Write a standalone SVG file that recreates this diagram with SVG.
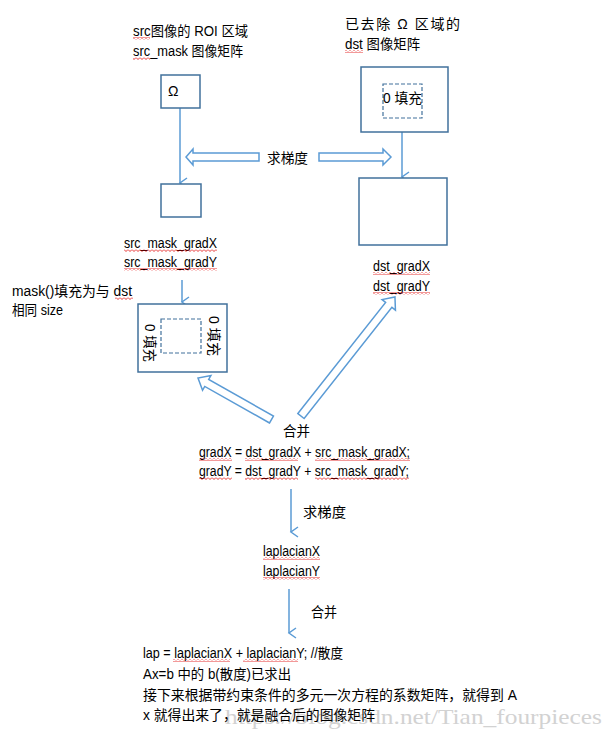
<svg xmlns="http://www.w3.org/2000/svg" width="608" height="743" viewBox="0 0 608 743">
<defs>
<pattern id="wavy" x="0" y="0" width="4" height="3" patternUnits="userSpaceOnUse">
<path d="M0,0.5 L2,2.5 L4,0.5" fill="none" stroke="#e00000" stroke-width="0.8"/>
</pattern>
<marker id="vhead" markerWidth="12" markerHeight="12" refX="6" refY="10" orient="auto" markerUnits="userSpaceOnUse" viewBox="0 0 12 12">
<path d="M1,3 L6,10 L11,3" fill="none" stroke="#5b9bd5" stroke-width="1.5"/>
</marker>
</defs>
<style>
.t{font-family:"Liberation Sans","Noto Sans CJK SC",sans-serif;font-size:14px;fill:#000}
.box{fill:#fff;stroke:#41719c;stroke-width:1.5}
.dash{fill:none;stroke:#41719c;stroke-width:1.2;stroke-dasharray:4,2}
.ln{fill:none;stroke:#5b9bd5;stroke-width:1.5}
.blk{fill:#fff;stroke:#5b9bd5;stroke-width:1.5;stroke-linejoin:miter}
.wv{fill:url(#wavy)}
.wm{font-family:"Liberation Serif",serif;font-size:21px;fill:#d2d2d2}
</style>
<rect width="608" height="743" fill="#fff"/>

<g id="watermark">
<text class="wm" x="225" y="724" textLength="377" lengthAdjust="spacingAndGlyphs">https://blog.csdn.net/Tian_fourpieces</text>
</g>

<g id="connectors">
<line class="ln" x1="180" y1="108" x2="180" y2="183" marker-end="url(#vhead)"/>
<line class="ln" x1="402" y1="132" x2="402" y2="177" marker-end="url(#vhead)"/>
<line class="ln" x1="182" y1="280" x2="182" y2="302" marker-end="url(#vhead)"/>
<line class="ln" x1="291" y1="489" x2="291" y2="532" marker-end="url(#vhead)"/>
<line class="ln" x1="289" y1="589" x2="289" y2="633" marker-end="url(#vhead)"/>
<polygon class="blk" points="259,153 193,153 193,149 186,157 193,165 193,161 259,161"/>
<polygon class="blk" points="319,153 383,153 383,149 391,157 383,165 383,161 319,161"/>
<polygon class="blk" transform="translate(271.5,419.5) rotate(209.45)" points="0,-4 74.4,-4 74.4,-8.5 84.4,0 74.4,8.5 74.4,4 0,4"/>
<polygon class="blk" transform="translate(301,416) rotate(-51.7)" points="0,-4 141.6,-4 141.6,-8.5 151.6,0 141.6,8.5 141.6,4 0,4"/>
</g>

<g id="src_label">
<text class="t" x="133" y="36" textLength="115" lengthAdjust="spacingAndGlyphs">src图像的 ROI 区域</text>
<text class="t" x="133" y="56" textLength="110" lengthAdjust="spacingAndGlyphs">src_mask 图像矩阵</text>
<rect class="wv" x="133" y="37" width="17" height="3"/>
<rect class="wv" x="133" y="57" width="17" height="3"/>
</g>

<g id="src_box">
<rect class="box" x="161" y="75" width="39" height="33"/>
<text class="t" x="168" y="96">Ω</text>
</g>

<g id="dst_label">
<text class="t" x="345" y="29" textLength="115" lengthAdjust="spacing">已去除 Ω 区域的</text>
<text class="t" x="345" y="49" textLength="75" lengthAdjust="spacingAndGlyphs">dst 图像矩阵</text>
<rect class="wv" x="345" y="50" width="18" height="3"/>
</g>

<g id="dst_box">
<rect class="box" x="361" y="67" width="87" height="65"/>
<rect class="dash" x="383" y="84" width="39" height="34"/>
<text class="t" x="383" y="103" textLength="39" lengthAdjust="spacingAndGlyphs">0 填充</text>
</g>

<g id="grad_label">
<text class="t" x="267" y="163" textLength="41" lengthAdjust="spacingAndGlyphs">求梯度</text>
</g>

<g id="src_grad_box">
<rect class="box" x="161" y="184" width="40" height="33"/>
</g>

<g id="dst_grad_box">
<rect class="box" x="359" y="178" width="88" height="67"/>
</g>

<g id="src_grad_label">
<text class="t" x="124" y="248" textLength="93" lengthAdjust="spacingAndGlyphs">src_mask_gradX</text>
<text class="t" x="124" y="267" textLength="93" lengthAdjust="spacingAndGlyphs">src_mask_gradY</text>
<rect class="wv" x="124" y="249" width="93" height="3"/>
<rect class="wv" x="124" y="268" width="93" height="3"/>
</g>

<g id="mask_note">
<text class="t" x="12" y="296" textLength="120" lengthAdjust="spacingAndGlyphs">mask()填充为与 dst</text>
<text class="t" x="12" y="315" textLength="51" lengthAdjust="spacingAndGlyphs">相同 size</text>
<rect class="wv" x="115" y="297" width="18" height="3"/>
</g>

<g id="mask_box">
<rect class="box" x="138" y="304" width="89" height="68"/>
<rect class="dash" x="161" y="319" width="40" height="34"/>
<text class="t" transform="translate(145,324) rotate(90)" textLength="38" lengthAdjust="spacingAndGlyphs">0 填充</text>
<text class="t" transform="translate(209,316) rotate(90)" textLength="40" lengthAdjust="spacingAndGlyphs">0 填充</text>
</g>

<g id="dst_grad_label">
<text class="t" x="373" y="271" textLength="57" lengthAdjust="spacingAndGlyphs">dst_gradX</text>
<text class="t" x="373" y="291" textLength="57" lengthAdjust="spacingAndGlyphs">dst_gradY</text>
<rect class="wv" x="373" y="272" width="57" height="3"/>
<rect class="wv" x="373" y="292" width="57" height="3"/>
</g>

<g id="merge1">
<text class="t" x="283" y="436" textLength="27" lengthAdjust="spacingAndGlyphs">合并</text>
<text class="t" x="199" y="457" textLength="211" lengthAdjust="spacingAndGlyphs">gradX = dst_gradX + src_mask_gradX;</text>
<text class="t" x="199" y="476" textLength="210" lengthAdjust="spacingAndGlyphs">gradY = dst_gradY + src_mask_gradY;</text>
<rect class="wv" x="199" y="458" width="33" height="3"/>
<rect class="wv" x="245" y="458" width="53" height="3"/>
<rect class="wv" x="315" y="458" width="95" height="3"/>
<rect class="wv" x="199" y="477" width="33" height="3"/>
<rect class="wv" x="245" y="477" width="53" height="3"/>
<rect class="wv" x="315" y="477" width="94" height="3"/>
</g>

<g id="grad2">
<text class="t" x="303" y="517" textLength="43" lengthAdjust="spacingAndGlyphs">求梯度</text>
</g>

<g id="laplacian">
<text class="t" x="263" y="556" textLength="57" lengthAdjust="spacingAndGlyphs">laplacianX</text>
<text class="t" x="263" y="576" textLength="57" lengthAdjust="spacingAndGlyphs">laplacianY</text>
<rect class="wv" x="263" y="557" width="57" height="3"/>
<rect class="wv" x="263" y="577" width="57" height="3"/>
</g>

<g id="merge2">
<text class="t" x="311" y="617" textLength="26" lengthAdjust="spacingAndGlyphs">合并</text>
</g>

<g id="result">
<text class="t" x="143" y="658" textLength="200" lengthAdjust="spacingAndGlyphs">lap = laplacianX + laplacianY; //散度</text>
<text class="t" x="143" y="679" textLength="148" lengthAdjust="spacingAndGlyphs">Ax=b 中的 b(散度)已求出</text>
<text class="t" x="143" y="700" textLength="374" lengthAdjust="spacingAndGlyphs">接下来根据带约束条件的多元一次方程的系数矩阵，就得到 A</text>
<text class="t" x="143" y="720" textLength="232" lengthAdjust="spacingAndGlyphs">x 就得出来了，就是融合后的图像矩阵</text>
<rect class="wv" x="173" y="659" width="57" height="3"/>
<rect class="wv" x="243" y="659" width="55" height="3"/>
</g>
</svg>
